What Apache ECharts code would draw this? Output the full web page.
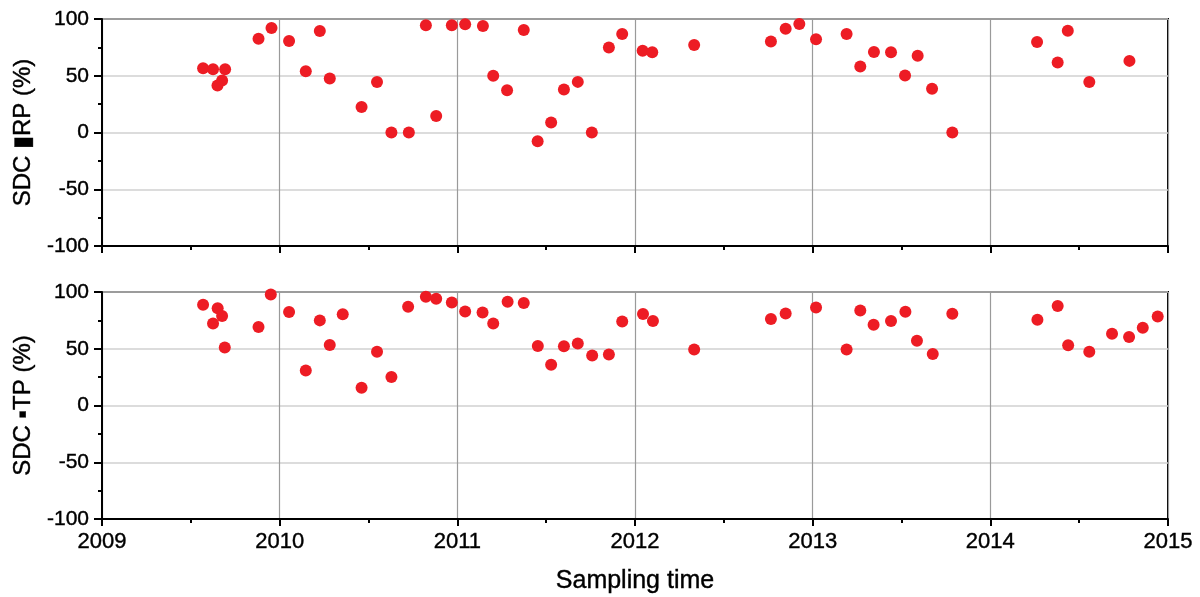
<!DOCTYPE html>
<html>
<head>
<meta charset="utf-8">
<script src="https://cdn.jsdelivr.net/npm/echarts@6/dist/echarts.min.js"></script>
<style>html,body{margin:0;padding:0;background:#fff;}#c{width:1200px;height:597px;}</style>
</head>
<body>
<div id="c"></div>
<script>
const xTicks = [2009, 2010, 2011, 2012, 2013, 2014, 2015];
const yTicks = [-100, -50, 0, 50, 100];

const srpTime = [2009.569, 2009.625, 2009.693, 2009.676, 2009.650, 2009.881, 2009.954, 2010.053, 2010.226, 2010.147,
  2010.282, 2010.548, 2010.461, 2010.629, 2010.727, 2010.881, 2010.823, 2010.969, 2011.044, 2011.144,
  2011.374, 2011.202, 2011.280, 2011.452, 2011.528, 2011.600, 2011.678, 2011.757, 2011.853, 2011.928,
  2012.043, 2012.097, 2012.333, 2012.765, 2012.848, 2012.925, 2013.019, 2013.191, 2013.268, 2013.345,
  2013.441, 2013.591, 2013.520, 2013.672, 2013.786, 2014.263, 2014.436, 2014.379, 2014.557, 2014.783];
const srpValue = [56.7, 55.8, 55.8, 45.8, 41.4, 82.7, 92.1, 80.7, 89.5, 54.0,
  47.5, 44.4, 22.4, 0, 0, 14.5, 94.5, 94.5, 95.3, 93.8,
  90.3, 49.9, 37.3, -7.8, 8.8, 37.9, 44.6, 0, 74.8, 86.8,
  72.1, 70.7, 77.1, 80.1, 91.5, 95.6, 82.1, 86.8, 58.1, 71.0,
  70.7, 67.7, 50.2, 38.5, 0, 79.8, 89.7, 61.6, 44.4, 63.1];

const tpTime = [2009.569, 2009.651, 2009.676, 2009.625, 2009.691, 2009.881, 2009.950, 2010.053, 2010.147, 2010.226,
  2010.282, 2010.355, 2010.461, 2010.548, 2010.629, 2010.723, 2010.823, 2010.881, 2010.969, 2011.044,
  2011.142, 2011.202, 2011.283, 2011.374, 2011.453, 2011.528, 2011.600, 2011.678, 2011.759, 2011.853,
  2011.928, 2012.045, 2012.101, 2012.333, 2012.765, 2012.848, 2013.019, 2013.191, 2013.268, 2013.343,
  2013.441, 2013.522, 2013.587, 2013.676, 2013.786, 2014.265, 2014.379, 2014.438, 2014.557, 2014.685,
  2014.781, 2014.858, 2014.942];
const tpValue = [88.8, 85.6, 78.9, 72.3, 51.2, 69.2, 97.9, 82.4, 30.9, 75.0,
  53.3, 80.3, 15.7, 47.4, 25.1, 87.0, 95.9, 94.1, 90.8, 82.9,
  82.0, 72.3, 91.5, 90.3, 52.4, 35.9, 52.1, 54.7, 44.1, 45.0,
  74.1, 80.6, 74.4, 49.4, 76.2, 81.1, 86.4, 49.4, 83.8, 71.2,
  74.4, 82.6, 57.1, 45.4, 80.9, 75.6, 87.7, 53.0, 47.4, 63.3,
  60.4, 68.5, 78.5];

const pairs = (xs, ys) => xs.map((x, i) => [x, ys[i]]);
const font = 'Liberation Sans, Arial, sans-serif';
const red = '#ED1C24';
const heavy = { textBorderColor: '#000', textBorderWidth: 0.4 };

function xAxis(idx, showLabels) {
  return {
    type: 'value', gridIndex: idx, min: xTicks[0], max: xTicks[xTicks.length - 1], interval: 1,
    axisLine: { show: true, onZero: false, lineStyle: { color: '#000', width: 2 } },
    axisTick: { show: true, inside: false, length: 7, lineStyle: { color: '#000', width: 2 } },
    minorTick: { show: true, splitNumber: 2, length: 4, lineStyle: { color: '#000', width: 2 } },
    axisLabel: Object.assign({ show: showLabels, color: '#000', fontSize: 22, fontFamily: font, margin: 12, formatter: v => String(v) }, heavy),
    splitLine: { show: true, lineStyle: { color: '#9a9a9a', width: 1.2 } },
    name: showLabels ? 'Sampling time' : '', nameLocation: 'middle', nameGap: 50,
    nameTextStyle: Object.assign({ color: '#000', fontSize: 25, fontFamily: font }, heavy)
  };
}
function yAxis(idx, name) {
  return {
    type: 'value', gridIndex: idx, min: yTicks[0], max: yTicks[yTicks.length - 1], interval: 50,
    axisLine: { show: true, onZero: false, lineStyle: { color: '#000', width: 2 } },
    axisTick: { show: true, inside: false, length: 8, lineStyle: { color: '#000', width: 2 } },
    minorTick: { show: true, splitNumber: 2, length: 4, lineStyle: { color: '#000', width: 2 } },
    axisLabel: Object.assign({ color: '#000', fontSize: 21, fontFamily: font, margin: 13 }, heavy),
    splitLine: { show: true, lineStyle: { color: '#d0d0d0', width: 1.5 } },
    name: name, nameLocation: 'middle', nameGap: 55, nameRotate: 90,
    nameTextStyle: Object.assign({ color: '#000', fontSize: 24, fontFamily: font }, heavy)
  };
}

const chart = echarts.init(document.getElementById('c'));
chart.setOption({
  animation: false,
  backgroundColor: '#fff',
  grid: [
    { left: 102, right: 32, top: 19, height: 227, show: true, borderColor: '#000', borderWidth: 2, backgroundColor: 'transparent' },
    { left: 102, right: 32, top: 292, height: 227, show: true, borderColor: '#000', borderWidth: 2, backgroundColor: 'transparent' }
  ],
  xAxis: [xAxis(0, false), xAxis(1, true)],
  yAxis: [yAxis(0, 'SDC \u25AERP (%)'), yAxis(1, 'SDC \u25AATP (%)')],
  series: [
    { type: 'scatter', xAxisIndex: 0, yAxisIndex: 0, data: pairs(srpTime, srpValue), symbol: 'circle', symbolSize: 12, itemStyle: { color: red, opacity: 1 } },
    { type: 'scatter', xAxisIndex: 1, yAxisIndex: 1, data: pairs(tpTime, tpValue), symbol: 'circle', symbolSize: 12, itemStyle: { color: red, opacity: 1 } }
  ]
});
</script>
</body>
</html>
